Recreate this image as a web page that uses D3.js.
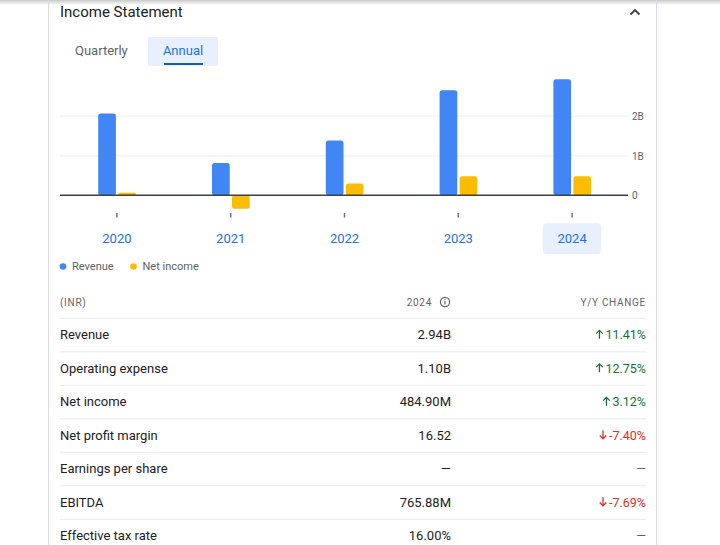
<!DOCTYPE html>
<html><head><meta charset="utf-8">
<script src="https://cdn.jsdelivr.net/npm/d3@7"></script>
<style>
html,body{margin:0;padding:0;background:#fff;}
svg{display:block;font-family:Roboto, "Noto Sans", sans-serif;}
</style></head>
<body>
<svg id="c" width="720" height="545"></svg>
<script>
const years = ["2020","2021","2022","2023","2024"];
const revenue = [2.07, 0.82, 1.39, 2.66, 2.94];      // billions INR
const netIncome = [0.066, -0.34, 0.30, 0.48, 0.485]; // billions INR
const yTicks = [0, 1, 2];
const yTickLabels = ["0", "1B", "2B"];
const seriesNames = ["Revenue", "Net income"];
const selectedYear = "2024";

const rowLabels = ["Revenue","Operating expense","Net income","Net profit margin","Earnings per share","EBITDA","Effective tax rate"];
const rowValues = ["2.94B","1.10B","484.90M","16.52","—","765.88M","16.00%"];
const rowChanges = ["11.41%","12.75%","3.12%","-7.40%",null,"-7.69%",null];
const rowDirections = ["up","up","up","down",null,"down",null];

const blue = "#4285f4", yellow = "#fbbc04";
const svg = d3.select("#c");

// top shadow
const defs = svg.append("defs");
const g1 = defs.append("linearGradient").attr("id","sh").attr("x1",0).attr("x2",0).attr("y1",0).attr("y2",1);
g1.append("stop").attr("offset","0%").attr("stop-color","#c8c8c8");
g1.append("stop").attr("offset","100%").attr("stop-color","#ffffff");
svg.append("rect").attr("x",0).attr("y",0).attr("width",720).attr("height",5).attr("fill","url(#sh)");

// card borders
svg.append("line").attr("x1",48.5).attr("x2",48.5).attr("y1",0).attr("y2",545).attr("stroke","#dadce0");
svg.append("line").attr("x1",656.5).attr("x2",656.5).attr("y1",0).attr("y2",545).attr("stroke","#dadce0");

// title
svg.append("text").attr("x",60).attr("y",16.5).attr("font-size",15).attr("fill","#202124").text("Income Statement");
// chevron
svg.append("path").attr("d","M630.5,14.5 L635,10 L639.5,14.5").attr("fill","none").attr("stroke","#3c4043").attr("stroke-width",1.8);

// tabs
svg.append("text").attr("x",75).attr("y",55).attr("font-size",13).attr("fill","#5f6368").text("Quarterly");
svg.append("rect").attr("x",148).attr("y",37).attr("width",70).attr("height",29).attr("fill","#e8f0fe");
svg.append("text").attr("x",183).attr("y",55).attr("text-anchor","middle").attr("font-size",13).attr("fill","#1a73e8").text("Annual");
svg.append("rect").attr("x",164).attr("y",63).attr("width",39).attr("height",2).attr("fill","#185abc");

// scales
const x = d3.scaleBand().domain(years).range([60, 629]);
const y = d3.scaleLinear().domain([0, 3]).range([195.3, 76.8]);

// gridlines
svg.append("g").selectAll("line").data(yTicks.filter(d=>d!==0)).join("line")
  .attr("x1",60).attr("x2",628).attr("y1",d=>y(d)).attr("y2",d=>y(d))
  .attr("stroke","#f1f3f4").attr("stroke-width",1.5);

// right axis labels
const ax = d3.axisRight(y).tickValues(yTicks).tickFormat((d,i)=>yTickLabels[i]).tickSize(0).tickPadding(4);
const axG = svg.append("g").attr("transform","translate(628,0)").call(ax);
axG.select(".domain").remove();
axG.selectAll("text").attr("font-size",10).attr("fill","#5f6368").attr("font-family","Roboto, sans-serif");

// bars
const bw = 17.7;
function barPath(x0, v0, v1, w, r){
  const top = Math.min(y(v0), y(v1)), bot = Math.max(y(v0), y(v1));
  const h = bot - top; const rr = Math.min(r, h/2, w/2);
  return `M${x0},${bot} L${x0},${top+rr} Q${x0},${top} ${x0+rr},${top} L${x0+w-rr},${top} Q${x0+w},${top} ${x0+w},${top+rr} L${x0+w},${bot-rr} Q${x0+w},${bot} ${x0+w-rr},${bot} L${x0+rr},${bot} Q${x0},${bot} ${x0},${bot-rr} Z`;
}
const cx = d => x(d) + x.bandwidth()/2;
svg.append("g").selectAll("path").data(years).join("path")
  .attr("d",(d,i)=>barPath(cx(d)-18.7, 0, revenue[i], bw, 2.5)).attr("fill",blue);
svg.append("g").selectAll("path").data(years).join("path")
  .attr("d",(d,i)=>barPath(cx(d)+1.3, 0, netIncome[i], bw, 2.5)).attr("fill",yellow);

// zero line
svg.append("line").attr("x1",60).attr("x2",628).attr("y1",y(0)).attr("y2",y(0)).attr("stroke","#3c4043").attr("stroke-width",1.5);

// x ticks
svg.append("g").selectAll("line").data(years).join("line")
  .attr("x1",d=>cx(d)).attr("x2",d=>cx(d)).attr("y1",213).attr("y2",217.5)
  .attr("stroke","#70757a").attr("stroke-width",1.5);

// selected year highlight
svg.append("rect").attr("x",cx(selectedYear)-29.3).attr("y",223.3).attr("width",58.3).attr("height",31).attr("rx",4).attr("fill","#e8f0fe");
svg.append("g").selectAll("text").data(years).join("text")
  .attr("x",d=>cx(d)).attr("y",243).attr("text-anchor","middle").attr("font-size",13).attr("fill","#1a73e8").text(d=>d);

// legend
const legX = [63, 133.5];
const legCol = [blue, yellow];
const lg = svg.append("g").selectAll("g").data(seriesNames).join("g");
lg.append("circle").attr("cx",(d,i)=>legX[i]).attr("cy",266.5).attr("r",3.3).attr("fill",(d,i)=>legCol[i]);
lg.append("text").attr("x",(d,i)=>legX[i]+9).attr("y",270).attr("font-size",11).attr("fill","#5f6368").text(d=>d);

// table header
const hdr = {size:10, fill:"#5f6368", ls:0.7};
svg.append("text").attr("x",60).attr("y",305.5).attr("font-size",hdr.size).attr("fill",hdr.fill).attr("letter-spacing",hdr.ls).text("(INR)");
svg.append("text").attr("x",432).attr("y",305.5).attr("text-anchor","end").attr("font-size",hdr.size).attr("fill",hdr.fill).attr("letter-spacing",hdr.ls).text("2024");
svg.append("circle").attr("cx",445).attr("cy",302).attr("r",4.6).attr("fill","none").attr("stroke","#5f6368").attr("stroke-width",1.2);
svg.append("line").attr("x1",445).attr("x2",445).attr("y1",301).attr("y2",304.5).attr("stroke","#5f6368").attr("stroke-width",1.2);
svg.append("circle").attr("cx",445).attr("cy",299.5).attr("r",0.7).attr("fill","#5f6368");
svg.append("text").attr("x",646).attr("y",305.5).attr("text-anchor","end").attr("font-size",hdr.size).attr("fill",hdr.fill).attr("letter-spacing",hdr.ls).text("Y/Y CHANGE");

// rows
const rowStep = 33.5, row0 = 318.3;
svg.append("g").selectAll("line").data(rowLabels).join("line")
  .attr("x1",60).attr("x2",646).attr("y1",(d,i)=>row0+i*rowStep).attr("y2",(d,i)=>row0+i*rowStep)
  .attr("stroke","#e8eaed").attr("stroke-width",1);
const rows = svg.append("g").selectAll("g").data(rowLabels).join("g")
  .attr("transform",(d,i)=>`translate(0,${row0 + i*rowStep + 21})`);
rows.append("text").attr("x",60).attr("font-size",13).attr("fill","#202124").text(d=>d);
rows.append("text").attr("x",451).attr("text-anchor","end").attr("font-size",13).attr("fill","#202124")
  .text((d,i)=>rowValues[i]);
const chg = rows.append("text").attr("x",646).attr("text-anchor","end").attr("font-size",12.5)
  .attr("fill",(d,i)=>rowDirections[i]==="up"?"#137333":rowDirections[i]==="down"?"#d93025":"#5f6368")
  .text((d,i)=>rowChanges[i]===null?"—":rowChanges[i]);
// direction arrows drawn before the change text
chg.each(function(d,i){
  const dir = rowDirections[i];
  if(!dir) return;
  const w = this.getComputedTextLength();
  const ax0 = 646 - w - 6;
  const col = dir==="up"?"#137333":"#d93025";
  const g = d3.select(this.parentNode);
  const p = dir==="up"
    ? `M${ax0},-0.5 L${ax0},-9 M${ax0-3.3},-5.7 L${ax0},-9 L${ax0+3.3},-5.7`
    : `M${ax0},-9.5 L${ax0},-1 M${ax0-3.3},-4.3 L${ax0},-1 L${ax0+3.3},-4.3`;
  g.append("path").attr("d",p).attr("fill","none").attr("stroke",col).attr("stroke-width",1.3);
});
</script>
</body></html>
